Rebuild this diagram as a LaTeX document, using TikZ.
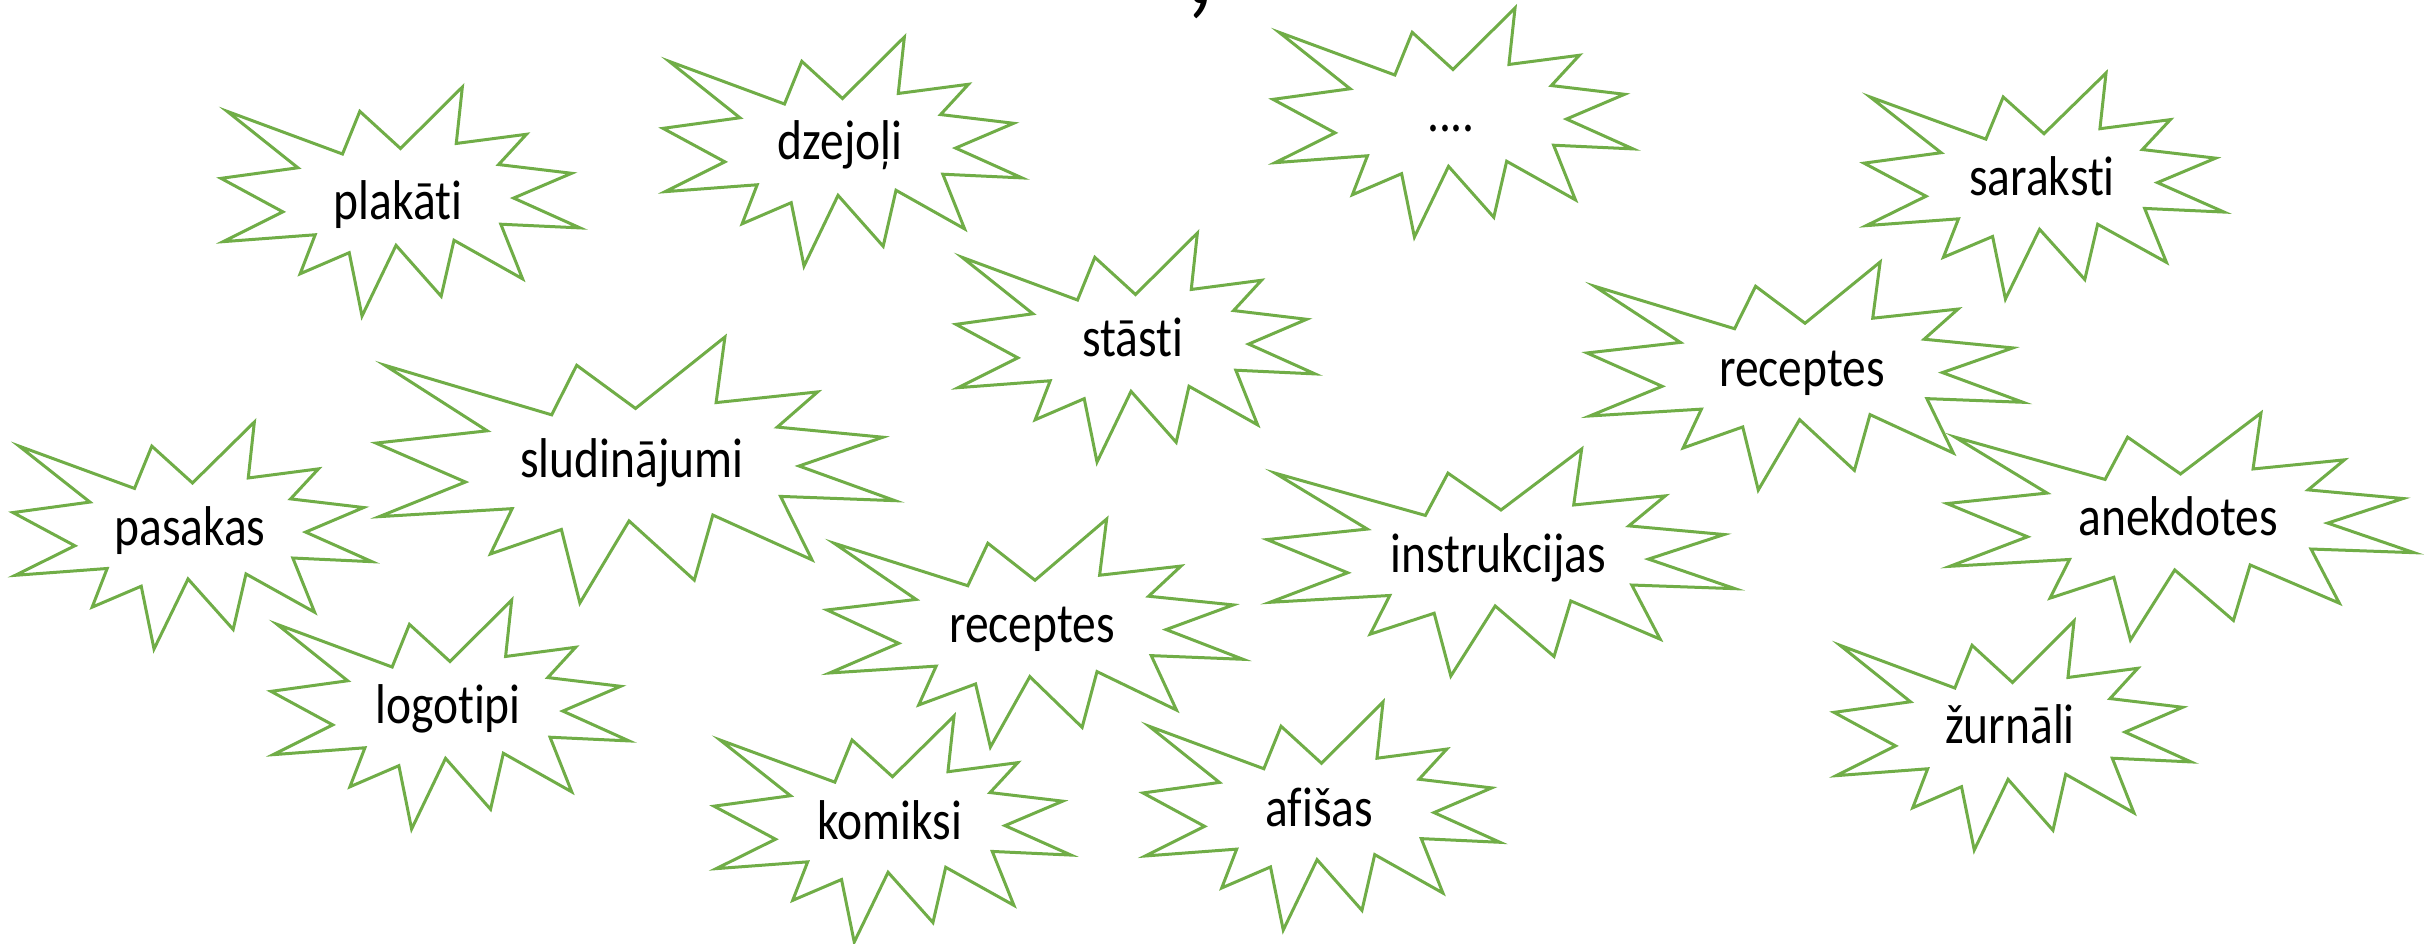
\documentclass[tikz,border=0pt]{standalone}
\usepackage{fontspec}
\setmainfont{Carlito}[Ligatures={NoCommon}]
\definecolor{sealgreen}{HTML}{70AD47}
\newcommand\tallword[1]{\scalebox{1}[1.18]{#1}}
\tikzset{
  sealline/.style={draw=sealgreen, fill=white, line width=1.2pt, line join=miter},
  seal/.pic={
    \path[sealline] (0.5,0.26852) -- (0.67231,0) -- (0.65532,0.24653) -- (0.85093,0.20634)
      -- (0.77324,0.33866) -- (0.97671,0.37671) -- (0.81514,0.48495) -- (1,0.61528)
      -- (0.77949,0.59917) -- (0.84005,0.83773) -- (0.64907,0.66931) -- (0.61329,0.91375)
      -- (0.48759,0.69144) -- (0.39282,1) -- (0.35718,0.72347) -- (0.22046,0.81560)
      -- (0.26236,0.64523) -- (0.00625,0.67532) -- (0.17231,0.54514) -- (0,0.39884)
      -- (0.21421,0.35264) -- (0.01713,0.10625) -- (0.33852,0.29259) -- (0.38667,0.10625)
      -- cycle;
  },
  lbl/.style={anchor=base, inner sep=0pt, text=black, font=\fontsize{19}{23}\selectfont},
}
\begin{document}
\begin{tikzpicture}[x=0.4pt, y=-0.4pt]
\useasboundingbox (0,0) rectangle (2430,943);
% seals: shift = top-left of bounding box, scale = width/height
\path (221,87)   pic[xscale=359, yscale=229] {seal};
\node[lbl] (plakati) at (398,219) {\tallword{plakāti}};

\path (663,37)   pic[xscale=359, yscale=229] {seal};
\node[lbl] (dzejoli) at (840,159) {\tallword{dzejoļi}};

\path (1273,8)   pic[xscale=360, yscale=229] {seal};
\node[lbl] (dots) at (1451,131) {\tallword{....}};

\path (1864,73)  pic[xscale=360, yscale=226] {seal};
\node[lbl] (saraksti) at (2042,195) {\tallword{saraksti}};

\path (956,233)  pic[xscale=359, yscale=229] {seal};
\node[lbl] (stasti) at (1133,356) {\tallword{stāsti}};

\path (1587,262) pic[xscale=436, yscale=228] {seal};
\node[lbl] (receptesR) at (1802,386) {\tallword{receptes}};

\path (376,337)  pic[xscale=519, yscale=266] {seal};
\node[lbl] (sludinajumi) at (632,477) {\tallword{sludinājumi}};

\path (13,422)   pic[xscale=359, yscale=227] {seal};
\node[lbl] (pasakas) at (190,545) {\tallword{pasakas}};

\path (1267,449) pic[xscale=468, yscale=227] {seal};
\node[lbl] (instrukcijas) at (1498,572) {\tallword{instrukcijas}};

\path (1947,413) pic[xscale=467, yscale=227] {seal};
\node[lbl] (anekdotes) at (2178,535) {\tallword{anekdotes}};

\path (271,600)  pic[xscale=358, yscale=229] {seal};
\node[lbl] (logotipi) at (448,723) {\tallword{logotipi}};

\path (827,519)  pic[xscale=416, yscale=228] {seal};
\node[lbl] (receptesM) at (1032,642) {\tallword{receptes}};

\path (714,716)  pic[xscale=357, yscale=226] {seal};
\node[lbl] (komiksi) at (890,839) {\tallword{komiksi}};

\path (1143,702) pic[xscale=357, yscale=228] {seal};
\node[lbl] (afisas) at (1319,826) {\tallword{afišas}};

\path (1834,621) pic[xscale=357, yscale=229] {seal};
\node[lbl] (zurnali) at (2010,743) {\tallword{žurnāli}};

\node[anchor=base, inner sep=0pt, font=\fontsize{48}{50}\selectfont] (comma) at (1200,3) {,};
\end{tikzpicture}
\end{document}
